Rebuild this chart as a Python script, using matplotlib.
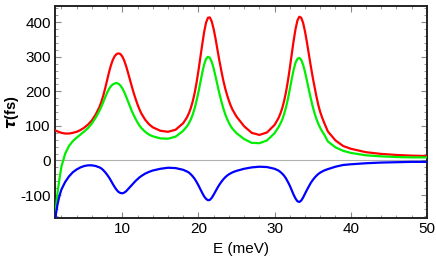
import numpy as np
import matplotlib.pyplot as plt
from matplotlib.ticker import MultipleLocator

# Energy grid (meV)
energy = [1.15, 1.3, 1.5, 1.75, 2.0, 2.5, 3.0, 3.5, 4.0, 4.5, 5.0, 5.5, 6.0, 6.5,
          7.0, 7.25, 7.5, 7.75, 8.0, 8.25, 8.5, 8.75, 9.0, 9.25, 9.5, 9.75, 10.0,
          10.25, 10.5, 10.75, 11.0, 11.25, 11.5, 11.75, 12.0, 12.25, 12.5,
          13.0, 13.5, 14.0, 15.0, 16.0, 17.0, 18.0,
          18.5, 18.75, 19.0, 19.25, 19.5, 19.75, 20.0, 20.25, 20.5, 20.75, 21.0,
          21.25, 21.5, 21.75, 22.0, 22.25, 22.5, 22.75, 23.0, 23.25, 23.5, 23.75,
          24.0, 24.25, 24.5,
          25.0, 26.0, 27.0, 28.0, 29.0, 30.0,
          30.5, 30.75, 31.0, 31.25, 31.5, 31.75, 32.0, 32.25, 32.5, 32.75, 33.0,
          33.25, 33.5, 33.75, 34.0, 34.25, 34.5, 34.75, 35.0, 35.25, 35.5, 35.75,
          36.0, 36.25, 36.5,
          37.0, 38.0, 39.0, 40.0, 42.0, 44.0, 46.0, 48.0, 50.0]

tau_red = [87, 86, 84, 82, 80, 78, 78, 80, 83, 88, 95, 104, 116, 133,
           155, 170, 188, 209, 232, 255, 275, 291, 302, 308, 310, 308, 301,
           289, 273, 254, 234, 214, 195, 178, 162, 148, 136,
           118, 105, 96, 86, 83, 89, 108,
           125, 137, 152, 171, 195, 225, 260, 298, 336, 372, 399,
           413, 414, 402, 380, 352, 320, 289, 260, 233, 210, 190,
           173, 158, 146,
           127, 99, 80, 74, 81, 103,
           122, 135, 151, 172, 198, 230, 267, 307, 346, 380, 405,
           416, 413, 398, 373, 342, 308, 274, 242, 213, 185, 160,
           140, 124, 110,
           84, 58, 42, 34, 24, 19, 16, 14, 13]

tau_green = [-180, -135, -92, -52, -18, 20, 42, 56, 66, 75, 84, 94, 107, 124,
             144, 156, 169, 183, 196, 207, 215, 220, 223, 224, 222, 217, 209,
             198, 185, 171, 157, 143, 131, 120, 110, 101, 94,
             83, 75, 70, 64, 63, 69, 86,
             99, 108, 119, 133, 151, 173, 198, 226, 254, 278, 294,
             300, 297, 285, 266, 243, 218, 194, 172, 152, 135, 121,
             109, 99, 91,
             79, 62, 51, 50, 58, 79,
             96, 106, 118, 134, 154, 178, 206, 235, 262, 283, 294,
             297, 291, 277, 256, 231, 205, 180, 157, 137, 120, 106,
             94, 84, 76,
             55, 38, 28, 22, 15, 12, 10, 9, 9]

tau_blue = [-180, -152, -126, -102, -84, -62, -46, -34, -26, -20, -16, -14, -14, -16,
            -20, -23, -28, -34, -41, -49, -58, -68, -77, -85, -91, -94, -95,
            -93, -89, -83, -77, -71, -65, -59, -54, -49, -45,
            -38, -33, -29, -24, -21, -22, -27,
            -32, -35, -40, -46, -53, -62, -72, -83, -94, -104, -111,
            -115, -114, -108, -99, -89, -79, -70, -62, -55, -49, -44,
            -40, -37, -34,
            -30, -24, -20, -18, -19, -24,
            -29, -33, -38, -44, -52, -62, -73, -86, -99, -110, -118,
            -120, -116, -107, -96, -85, -75, -65, -57, -50, -44, -39,
            -35, -32, -29,
            -25, -18, -13, -11, -8, -6, -5, -4, -4]

plt.rcParams['font.family'] = ['Liberation Sans', 'DejaVu Sans']
plt.rcParams['axes.unicode_minus'] = False

fig = plt.figure(figsize=(4.36, 2.73), dpi=100)
ax = fig.add_axes([0.126, 0.202, 0.853, 0.776])

ax.axhline(0, color='#b0b0b0', lw=0.8, zorder=1)
ax.plot(energy, tau_red, color='#ff0000', lw=1.6, zorder=3)
ax.plot(energy, tau_green, color='#00ee00', lw=1.6, zorder=3)
ax.plot(energy, tau_blue, color='#0000ff', lw=1.6, zorder=3)

ax.set_xlim(1.15, 50)
ax.set_ylim(-166, 447)

ax.xaxis.set_major_locator(MultipleLocator(10))
ax.xaxis.set_minor_locator(MultipleLocator(2))
ax.yaxis.set_major_locator(MultipleLocator(100))
ax.yaxis.set_minor_locator(MultipleLocator(20))
ax.tick_params(which='both', direction='in', top=True, right=True,
               color='#888888', labelsize=11, pad=3)
ax.tick_params(which='major', length=4, width=0.8)
ax.tick_params(which='minor', length=2.5, width=0.6)

for s in ax.spines.values():
    s.set_color('#222222')
    s.set_linewidth(1.4)

ax.set_xlabel('E (meV)', fontsize=11, labelpad=4)
ax.set_ylabel(r'$\boldsymbol{\tau}$(fs)', fontsize=10.5, fontweight='bold')
ax.yaxis.set_label_coords(-0.092, 0.5)

fig.savefig('out.png', dpi=100)
